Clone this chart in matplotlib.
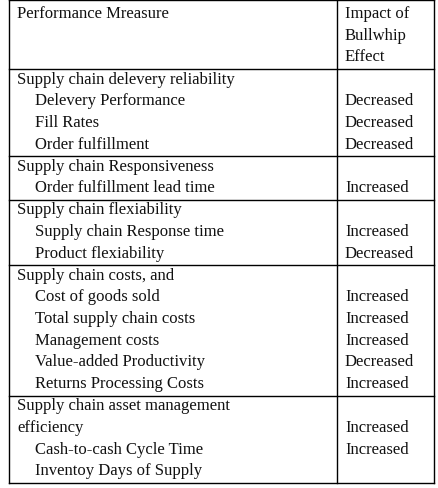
import matplotlib.pyplot as plt

header_left = "Performance Mreasure"
header_right = ["Impact of", "Bullwhip", "Effect"]

groups = [
    ["Supply chain delevery reliability"],
    ["Supply chain Responsiveness"],
    ["Supply chain flexiability"],
    ["Supply chain costs, and"],
    ["Supply chain asset management", "efficiency"],
]
items = [
    ["Delevery Performance", "Fill Rates", "Order fulfillment"],
    ["Order fulfillment lead time"],
    ["Supply chain Response time", "Product flexiability"],
    ["Cost of goods sold", "Total supply chain costs", "Management costs",
     "Value-added Productivity", "Returns Processing Costs"],
    ["Cash-to-cash Cycle Time", "Inventoy Days of Supply"],
]
# impact column, one entry per text line of each group (header lines first)
impacts = [
    ["", "Decreased", "Decreased", "Decreased"],
    ["", "Increased"],
    ["", "Increased", "Decreased"],
    ["", "Increased", "Increased", "Increased", "Decreased", "Increased"],
    ["", "Increased", "Increased", ""],
]

fig = plt.figure(figsize=(4.39, 4.88), dpi=100)
ax = fig.add_axes([0, 0, 1, 1])
ax.set_xlim(0, 439)
ax.set_ylim(488, 0)
ax.axis("off")

font = dict(family="Liberation Serif", fontsize=12, va="center", color="#111111")
xl, xm, xr = 9, 337, 434
step = 21.7
lw = 1.0

ax.text(17, 14, header_left, **font)
for i, t in enumerate(header_right):
    ax.text(345, 14 + i * step, t, **font)

y_top = 0
ax.plot([xl, xr], [y_top, y_top], color="k", lw=lw)
bounds = [69]
y = 69
for g, its, imp in zip(groups, items, impacts):
    lines = [(t, 17) for t in g] + [(t, 35) for t in its]
    for k, (t, x) in enumerate(lines):
        yy = y + 10.5 + k * step
        ax.text(x, yy, t, **font)
        if imp[k]:
            ax.text(345, yy, imp[k], **font)
    y = y + 10.5 + (len(lines) - 1) * step + 11.5
    bounds.append(y)

for b in bounds:
    ax.plot([xl, xr], [b, b], color="k", lw=lw)
for x in (xl, xm, xr):
    ax.plot([x, x], [y_top, bounds[-1]], color="k", lw=lw)

fig.savefig("out.png", dpi=100)
